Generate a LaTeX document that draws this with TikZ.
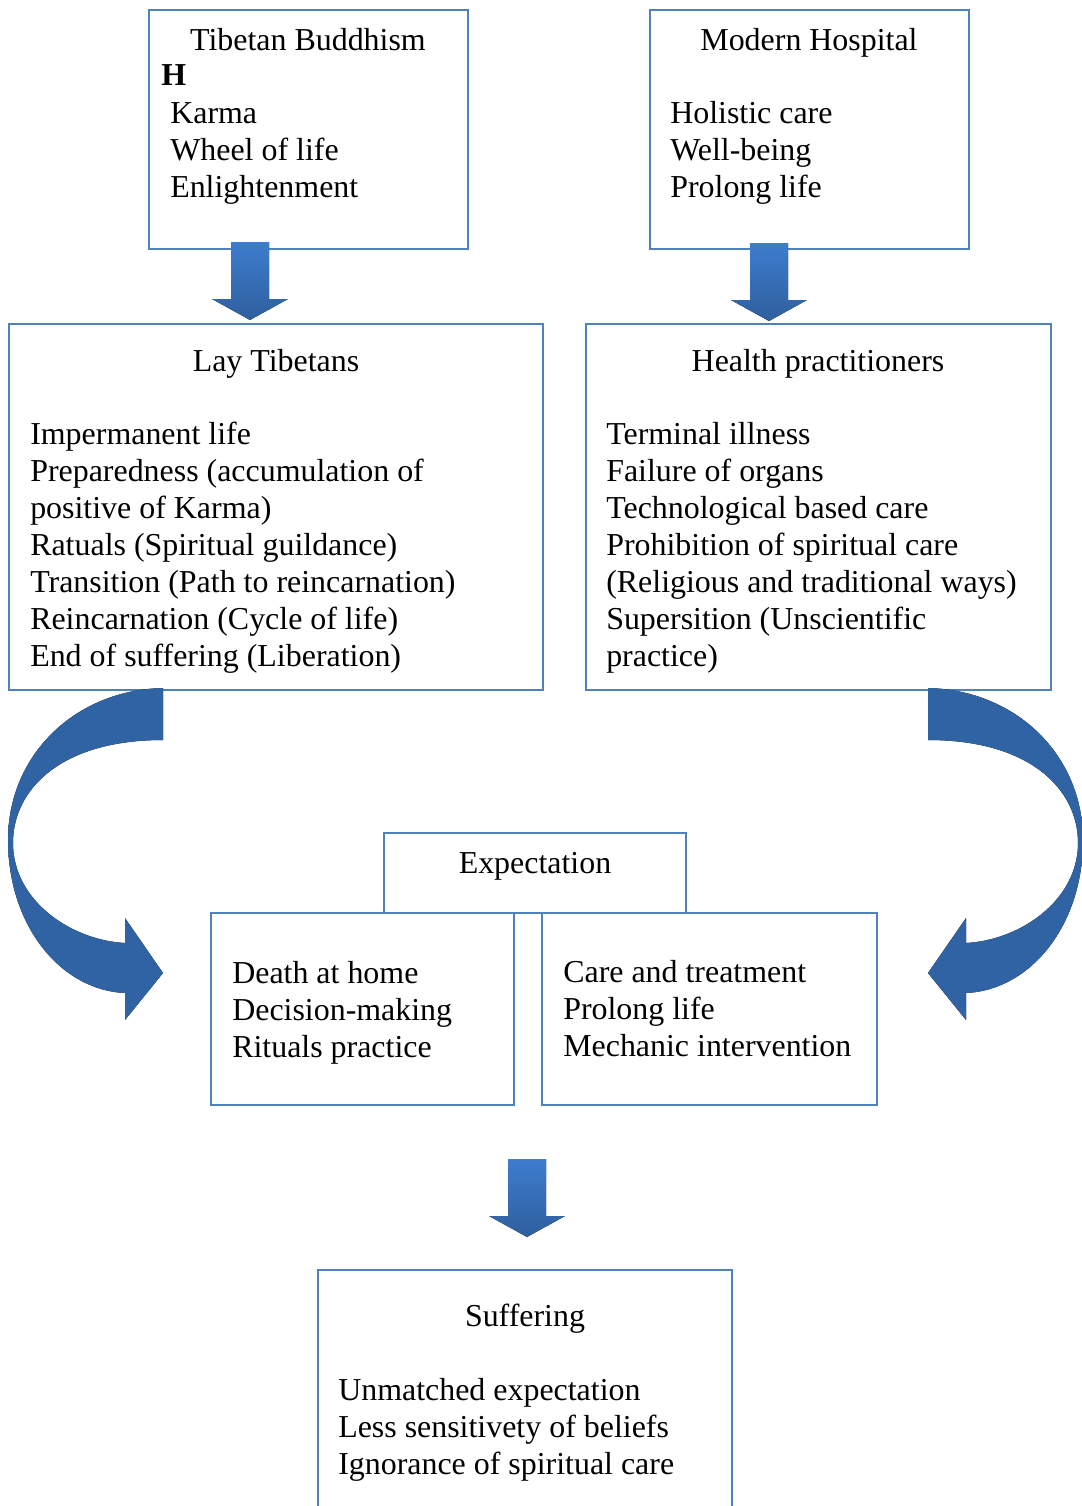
\documentclass[tikz,border=0pt]{standalone}
\usepackage{fontspec}
\setmainfont{Liberation Serif}
\usetikzlibrary{fit}

\definecolor{boxblue}{HTML}{4F81BD}
\definecolor{arrowtop}{HTML}{3D7DCE}
\definecolor{arrowbot}{HTML}{2F5F9E}
\definecolor{bendlight}{HTML}{3A74BE}
\definecolor{benddark}{HTML}{3063A3}

\begin{document}
\begin{tikzpicture}[
  x=0.025cm, y=-0.025cm,
  every node/.style = {font=\fontsize{22.7}{26.3}\selectfont},
  box/.style = {
    rectangle,
    draw=boxblue,
    line width=1.3pt,
    inner sep=0pt},
  title/.style = {anchor=base, inner sep=0pt},
  % multi-line nodes: base is the last line
  items/.style = {anchor=base west, align=left, inner sep=0pt},
  blockdown/.pic = {
    \fill[top color=arrowtop, bottom color=arrowbot]
      (-19,0) -- (19,0) -- (19,57) -- (38,57) -- (0,78) -- (-38,57) -- (-19,57) -- cycle;},
  bendarrow/.pic = {
    \fill[top color=benddark, middle color=bendlight, bottom color=benddark]
      (163,688) .. controls (75,690) and (8,755) .. (8,840)
      .. controls (8,925) and (60,990) .. (125,993)
      -- (125,1020) -- (163,973) -- (125,918) -- (125,943)
      .. controls (70,940) and (13,900) .. (13,843)
      .. controls (13,790) and (60,740) .. (163,740) -- cycle;}
  ]
\useasboundingbox (0,0) rectangle (1081,1506);

% boxes
\node(tb)[box, fit={(149,10) (468,249)}]{};
\node(mh)[box, fit={(650,10) (969,249)}]{};
\node(lt)[box, fit={(9,324) (543,690)}]{};
\node(hp)[box, fit={(586,324) (1051,690)}]{};
\node(ex)[box, fit={(384,833) (686,913)}]{};
\node(dh)[box, fit={(211,913) (514,1105)}]{};
\node(ct)[box, fit={(542,913) (877,1105)}]{};
\node(su)[box, fit={(318,1270) (732,1530)}]{};

% arrows
\coordinate (a1) at (250,242);
\coordinate (a2) at (769,243);
\coordinate (a3) at (527,1159);
\pic at (a1) {blockdown};
\pic at (a2) {blockdown};
\pic at (a3) {blockdown};
\coordinate (b1) at (0,0);
\coordinate (b2) at (1091,0);
\pic at (b1) {bendarrow};
\pic[xscale=-1] at (b2) {bendarrow};

% texts
\node(tbt)[title] at (308,50) {Tibetan Buddhism};
\node(tbh)[items] at (161,85) {\textbf{H}};
\node(tbi)[items] at (170,197) {Karma\\Wheel of life\\Enlightenment};

\node(mht)[title] at (809,50) {Modern Hospital};
\node(mhi)[items] at (670,197) {Holistic care\\Well-being\\Prolong life};

\node(ltt)[title] at (276,371) {Lay Tibetans};
\node(lti)[items] at (30,666) {Impermanent life\\Preparedness (accumulation of\\positive of Karma)\\Ratuals (Spiritual guildance)\\Transition (Path to reincarnation)\\Reincarnation (Cycle of life)\\End of suffering (Liberation)};

\node(hpt)[title] at (818,371) {Health practitioners};
\node(hpi)[items] at (606,666) {Terminal illness\\Failure of organs\\Technological based care\\Prohibition of spiritual care\\(Religious and traditional ways)\\Supersition (Unscientific\\practice)};

\node(ext)[title] at (535,873) {Expectation};
\node(dhi)[items] at (232,1057) {Death at home\\Decision-making\\Rituals practice};
\node(cti)[items] at (563,1056) {Care and treatment\\Prolong life\\Mechanic intervention};

\node(sut)[title] at (525,1326) {Suffering};
\node(sui)[items] at (338,1474) {Unmatched expectation\\Less sensitivety of beliefs\\Ignorance of spiritual care};

\end{tikzpicture}
\end{document}
